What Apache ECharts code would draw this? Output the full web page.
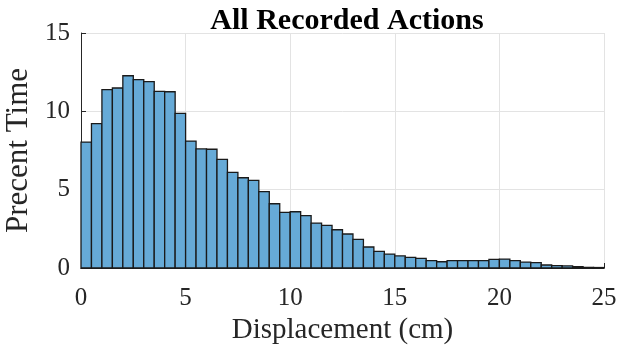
<!DOCTYPE html>
<html>
<head>
<meta charset="utf-8">
<script src="https://cdn.jsdelivr.net/npm/echarts@6/dist/echarts.min.js"></script>
<style>
    html, body { margin: 0; padding: 0; background: #fff; }
    #chart { width: 617px; height: 347px; }
</style>
</head>
<body>
<div id="chart"></div>
<script>
// histogram bins, 0.5 cm wide starting at 0
var binStart = 0;
var binWidth = 0.5;
var percentTime = [
    8.04, 9.21, 11.38, 11.49, 12.27, 12.02, 11.89, 11.27, 11.25, 9.87,
    8.10, 7.60, 7.58, 6.93, 6.10, 5.76, 5.59, 4.88, 4.10, 3.55,
    3.59, 3.34, 2.87, 2.72, 2.44, 2.17, 1.83, 1.34, 1.06, 0.89,
    0.77, 0.68, 0.61, 0.47, 0.40, 0.47, 0.47, 0.47, 0.47, 0.55,
    0.57, 0.47, 0.38, 0.34, 0.19, 0.15, 0.13, 0.09, 0.04, 0.03
];
var xTicks = [0, 5, 10, 15, 20, 25];
var yTicks = [0, 5, 10, 15];

var myChart = echarts.init(document.getElementById('chart'));

var bars = [];
for (var i = 0; i < percentTime.length; i++) {
    var x0 = binStart + i * binWidth;
    bars.push([x0, x0 + binWidth, percentTime[i]]);
}

var serif = '"Liberation Serif", "Times New Roman", serif';

var option = {
    animation: false,
    title: {
        text: 'All Recorded Actions',
        left: 342,
        textAlign: 'center',
        top: 1,
        textStyle: {
            fontFamily: serif,
            fontWeight: 'bold',
            fontSize: 30,
            color: '#000'
        }
    },
    grid: {
        left: 81,
        right: 13,
        top: 33,
        bottom: 79,
        outerBoundsMode: 'none',
        containLabel: false
    },
    xAxis: {
        type: 'value',
        min: xTicks[0],
        max: xTicks[xTicks.length - 1],
        interval: 5,
        name: 'Displacement (cm)',
        nameLocation: 'middle',
        nameGap: 43,
        nameTextStyle: { fontFamily: serif, fontSize: 29, color: '#262626' },
        axisLine: { lineStyle: { color: '#262626', width: 1 } },
        axisTick: { inside: true, length: 5, lineStyle: { color: '#262626' } },
        axisLabel: { fontFamily: serif, fontSize: 25, color: '#262626', margin: 18 },
        splitLine: { show: true, lineStyle: { color: '#e3e3e3', width: 1 } }
    },
    yAxis: {
        type: 'value',
        min: yTicks[0],
        max: yTicks[yTicks.length - 1],
        interval: 5,
        name: 'Precent Time',
        nameLocation: 'middle',
        nameGap: 42,
        nameTextStyle: { fontFamily: serif, fontSize: 31, color: '#262626' },
        axisLine: { show: true, lineStyle: { color: '#262626', width: 1 } },
        axisTick: { show: true, inside: true, length: 5, lineStyle: { color: '#262626' } },
        axisLabel: { fontFamily: serif, fontSize: 25, color: '#262626', margin: 11 },
        splitLine: { show: true, lineStyle: { color: '#e3e3e3', width: 1 } }
    },
    series: [
        {
            type: 'custom',
            data: bars,
            encode: { x: [0, 1], y: 2 },
            renderItem: function (params, api) {
                var p0 = api.coord([api.value(0), api.value(2)]);
                var p1 = api.coord([api.value(1), 0]);
                return {
                    type: 'rect',
                    shape: { x: p0[0], y: p0[1], width: p1[0] - p0[0], height: p1[1] - p0[1] },
                    style: { fill: '#66aad7', stroke: '#1a1a1a', lineWidth: 1.3 }
                };
            }
        }
    ]
};

myChart.setOption(option);
</script>
</body>
</html>
